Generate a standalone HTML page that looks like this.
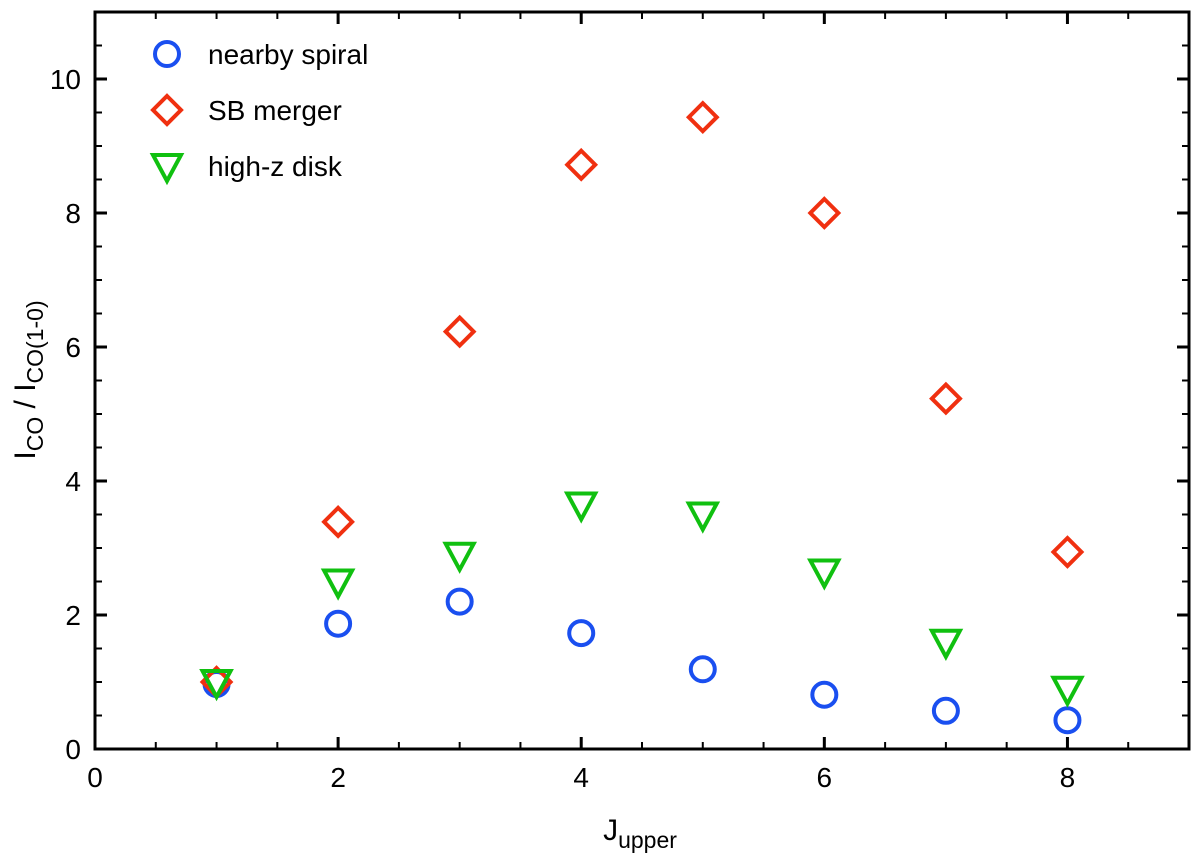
<!DOCTYPE html>
<html><head><meta charset="utf-8"><style>
body{margin:0;background:#fff}
text{font-family:"Liberation Sans",sans-serif;fill:#000}
</style></head><body>
<svg id="chart" width="1200" height="855" xmlns="http://www.w3.org/2000/svg"></svg>
<script>
const jvals=[1,2,3,4,5,6,7,8];
const spiral=[0.97,1.87,2.2,1.73,1.19,0.81,0.57,0.43];
const merger=[1.0,3.39,6.23,8.72,9.43,8.0,5.23,2.94];
const highz=[1.0,2.5,2.9,3.65,3.5,2.65,1.6,0.9];
const xTicks=[0,2,4,6,8];
const yTicks=[0,2,4,6,8,10];
const L=95,R=1189,T=12,B=749,XMAX=9,YMAX=11;
const X=v=>L+(R-L)*v/XMAX, Y=v=>B-(B-T)*v/YMAX;
const svg=document.getElementById('chart');
const NS='http://www.w3.org/2000/svg';
function mk(tag,a,parent){const e=document.createElementNS(NS,tag);for(const k in a)e.setAttribute(k,a[k]);(parent||svg).appendChild(e);return e;}
const frame=mk('rect',{x:L,y:T,width:R-L,height:B-T,fill:'none',stroke:'#000','stroke-width':3});


for(let v=0;v<=XMAX;v+=0.5){const maj=v%2===0;const len=maj?12:7;
const t1=mk('line',{x1:X(v),x2:X(v),y1:B,y2:B-len,stroke:'#000','stroke-width':maj?3:2});


const t2=mk('line',{x1:X(v),x2:X(v),y1:T,y2:T+len,stroke:'#000','stroke-width':maj?3:2});

}
for(let v=0;v<=YMAX;v+=0.5){const maj=v%2===0;const len=maj?12:7;
const t1=mk('line',{x1:L,x2:L+len,y1:Y(v),y2:Y(v),stroke:'#000','stroke-width':maj?3:2});


const t2=mk('line',{x1:R,x2:R-len,y1:Y(v),y2:Y(v),stroke:'#000','stroke-width':maj?3:2});

}
xTicks.forEach(v=>{const t=mk('text',{x:X(v),y:B+38,'text-anchor':'middle','font-size':28});t.textContent=v;

});
yTicks.forEach(v=>{const t=mk('text',{x:L-14,y:Y(v)+10,'text-anchor':'end','font-size':28});t.textContent=v;

});
const xt=mk('text',{x:640,y:840,'text-anchor':'middle','font-size':30});
xt.innerHTML='J<tspan font-size="23" dy="8">upper</tspan>';


const yt=mk('text',{x:0,y:0,'text-anchor':'middle','font-size':30,transform:'translate(35,380) rotate(-90)'});
yt.innerHTML='I<tspan font-size="23" dy="8">CO</tspan><tspan dy="-8"> / I</tspan><tspan font-size="23" dy="8">CO(1-0)</tspan>';


function circle(cx,cy){return mk('circle',{cx,cy,r:12,fill:'none',stroke:'#1a4ff0','stroke-width':4});}
function diamond(cx,cy){return mk('polygon',{points:`${cx},${cy-14} ${cx+14},${cy} ${cx},${cy+14} ${cx-14},${cy}`,fill:'none',stroke:'#f03010','stroke-width':4});}
function tri(cx,cy){return mk('polygon',{points:`${cx-14},${cy-11} ${cx+14},${cy-11} ${cx},${cy+15}`,fill:'none',stroke:'#10c010','stroke-width':4});}
jvals.forEach((j,i)=>{const e=circle(X(j),Y(spiral[i]));

});
jvals.forEach((j,i)=>{const e=diamond(X(j),Y(merger[i]));

});
jvals.forEach((j,i)=>{const e=tri(X(j),Y(highz[i]));

});
const leg=[['nearby spiral',circle,54],['SB merger',diamond,110],['high-z disk',tri,166]];
leg.forEach(([lab,f,y])=>{const m=f(167,y);


const t=mk('text',{x:208,y:y+10,'font-size':28});t.textContent=lab;

});
</script>
</body></html>
